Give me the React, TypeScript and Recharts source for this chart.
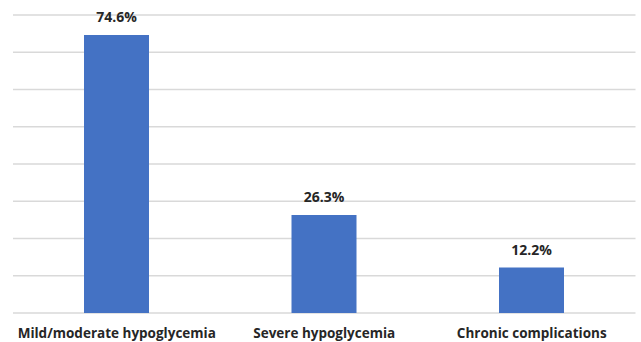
import React from "react";
import { BarChart, Bar, XAxis, YAxis, CartesianGrid, LabelList } from "recharts";

const categories = ["Mild/moderate hypoglycemia", "Severe hypoglycemia", "Chronic complications"];
const percentages = [74.6, 26.3, 12.2];
const yTicks = [0, 10, 20, 30, 40, 50, 60, 70, 80];

const data = categories.map((name, i) => ({ name, value: percentages[i] }));

const FONT = "'Open Sans', Lato, sans-serif";

const CategoryTick = (props: any) => {
  const { x, payload } = props;
  return (
    <text x={x} y={338} textAnchor="middle" fontFamily={FONT} fontWeight={700} fontSize={13.5} fill="#262626">
      {payload.value}
    </text>
  );
};

const ValueLabel = (props: any) => {
  const { x, y, width, value } = props;
  return (
    <text x={x + width / 2} y={y - 13} textAnchor="middle" fontFamily={FONT} fontWeight={700} fontSize={14} fill="#262626">
      {`${value.toFixed(1)}%`}
    </text>
  );
};

export default function App() {
  return (
    <div style={{ position: "absolute", left: 0, top: 0, background: "#fff" }}>
      <BarChart width={641} height={342} data={data} margin={{ top: 15, right: 5.5, bottom: 0, left: 13 }}>
        <CartesianGrid vertical={false} stroke="#d9d9d9" strokeWidth={1.5} />
        <YAxis hide domain={[0, 80]} ticks={yTicks} />
        <XAxis dataKey="name" axisLine={false} tickLine={false} height={29} interval={0} tick={<CategoryTick />} />
        <Bar dataKey="value" fill="#4472C4" barSize={65} isAnimationActive={false}>
          <LabelList dataKey="value" content={<ValueLabel />} />
        </Bar>
      </BarChart>
    </div>
  );
}
